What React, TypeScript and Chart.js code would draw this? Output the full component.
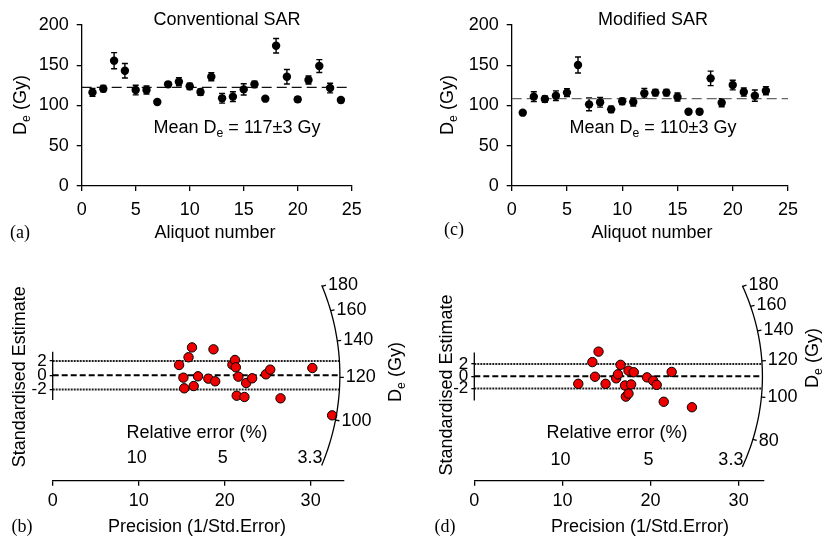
import { useEffect, useRef } from 'react';
import { Chart, registerables, type ChartConfiguration, type Plugin } from 'chart.js';

Chart.register(...registerables);

const FONT = '"Liberation Sans", Arial, Helvetica, sans-serif';
const SERIF = '"Liberation Serif", "Times New Roman", serif';
const W = 413;
const H = 270;

// (a) conventional SAR, De per aliquot
const ALIQUOT_A = [1, 2, 3, 4, 5, 6, 7, 8, 9, 10, 11, 12, 13, 14, 15, 16, 17, 18, 19, 20, 21, 22, 23, 24];
const DE_A = [116.3, 120.9, 155.7, 143.2, 119.2, 119.2, 104.3, 126.3, 129.6, 123.8, 116.7, 135.8, 108.9, 111, 120, 126.3, 108.5, 174.3, 135.8, 107.6, 131.7, 149, 121.7, 106.8];
const ERR_A = [5, 4, 10, 9, 6, 5, 2, 3, 5, 4, 4, 5, 6, 6, 7, 4, 2, 9, 9, 3, 5, 8, 6, 3];
const LINE_A = 122.5;

// (c) modified SAR
const ALIQUOT_C = [1, 2, 3, 4, 5, 6, 7, 8, 9, 10, 11, 12, 13, 14, 15, 16, 17, 18, 19, 20, 21, 22, 23];
const DE_C = [91.1, 111, 108, 112.2, 116, 150.3, 101.4, 104, 95.2, 105.2, 104.3, 115.1, 116, 116, 110.5, 92.3, 92.3, 133.7, 103.5, 125.4, 116.7, 112.2, 118.4];
const ERR_C = [2, 6, 4, 6, 5, 10, 8, 6, 4, 4, 5, 6, 4, 4, 5, 2, 3, 9, 5, 6, 5, 7, 5];
const LINE_C = 108.5;

const ALIQUOT_TICKS = [0, 5, 10, 15, 20, 25];
const DOSE_TICKS = [0, 50, 100, 150, 200];

// (b) radial plot, conventional
const PREC_B = [14.7, 15.2, 15.3, 15.8, 16.2, 16.4, 16.9, 18.1, 18.7, 18.9, 20.9, 21.2, 21.3, 21.4, 21.6, 22.3, 22.5, 23.2, 24.8, 25.3, 26.5, 30.2, 32.5];
const STD_B = [1.44, -0.33, -1.82, 2.52, 3.9, -1.5, -0.14, -0.47, 3.63, -0.84, 1.49, 2.14, 1.12, -2.85, -0.19, -3.03, -1.08, -0.42, 0.14, 0.79, -3.22, 1.02, -5.6];

// (d) radial plot, modified
const PREC_D = [11.8, 13.4, 13.7, 14.1, 14.9, 16.1, 16.3, 16.6, 17.1, 17.2, 17.5, 17.5, 17.8, 18.1, 19.6, 20.3, 20.7, 21.5, 22.4, 24.7];
const STD_D = [-1.23, 2.33, -0.07, 4.05, -1.23, -0.33, 0.33, 1.88, -1.5, -3.33, -2.83, 0.93, -1.33, 0.67, -0.17, -0.72, -1.4, -4.17, 0.72, -5.07];

const STD_TICKS = [-2, 0, 2];
const PRECISION_TICKS = [0, 10, 20, 30];
const REL_ERR_TICKS = [10, 5, 3.3];
const DE_TICKS_B = [100, 120, 140, 160, 180];
const DE_TICKS_D = [80, 100, 120, 140, 160, 180];
const CENTRAL_B = 121;
const CENTRAL_D = 111;

type Seg = { text: string; sub?: boolean };
type Label = { segs: Seg[]; x: number; y: number; size?: number; serif?: boolean; rotate?: boolean };

const plain = (text: string): Seg[] => [{ text }];
const deTitle: Seg[] = [{ text: 'D' }, { text: 'e', sub: true }, { text: ' (Gy)' }];

function richText(ctx: CanvasRenderingContext2D, l: Label) {
  const size = l.size ?? 18;
  const family = l.serif ? SERIF : FONT;
  const fontOf = (s: Seg) => `${s.sub ? size * 0.68 : size}px ${family}`;
  ctx.save();
  ctx.translate(l.x, l.y);
  if (l.rotate) ctx.rotate(-Math.PI / 2);
  ctx.fillStyle = '#000';
  ctx.textBaseline = 'middle';
  ctx.textAlign = 'left';
  let total = 0;
  for (const s of l.segs) {
    ctx.font = fontOf(s);
    total += ctx.measureText(s.text).width;
  }
  let cx = -total / 2;
  for (const s of l.segs) {
    ctx.font = fontOf(s);
    ctx.fillText(s.text, cx, s.sub ? size * 0.32 : 0);
    cx += ctx.measureText(s.text).width;
  }
  ctx.restore();
}

const labelPlugin = (labels: Label[]): Plugin<'scatter'> => ({
  id: 'labels',
  afterDraw(chart) {
    for (const l of labels) richText(chart.ctx, l);
  },
});

const axisStyle = {
  border: { color: '#000', width: 1.3 },
  grid: { drawOnChartArea: false, color: '#000', tickLength: 5, lineWidth: 1.3 },
};

interface AliquotPanel {
  aliquots: number[];
  de: number[];
  err: number[];
  line: number;
  lineColor: string;
  yWidth: number;
  padRight: number;
  labels: Label[];
}

function aliquotConfig(p: AliquotPanel): ChartConfiguration<'scatter'> {
  const errorBars: Plugin<'scatter'> = {
    id: 'errorBars',
    beforeDatasetsDraw(chart) {
      const { ctx, scales } = chart;
      ctx.save();
      ctx.strokeStyle = '#000';
      ctx.lineWidth = 1.4;
      p.aliquots.forEach((a, i) => {
        const x = scales.x.getPixelForValue(a);
        const y1 = scales.y.getPixelForValue(p.de[i] - p.err[i]);
        const y2 = scales.y.getPixelForValue(p.de[i] + p.err[i]);
        ctx.beginPath();
        ctx.moveTo(x, y1);
        ctx.lineTo(x, y2);
        ctx.moveTo(x - 3, y1);
        ctx.lineTo(x + 3, y1);
        ctx.moveTo(x - 3, y2);
        ctx.lineTo(x + 3, y2);
        ctx.stroke();
      });
      ctx.restore();
    },
  };
  return {
    type: 'scatter',
    data: {
      datasets: [
        {
          data: p.aliquots.map((a, i) => ({ x: a, y: p.de[i] })),
          pointRadius: 4.2,
          pointBackgroundColor: '#000',
          pointBorderColor: '#000',
          pointBorderWidth: 0,
        },
        {
          data: [{ x: 0, y: p.line }, { x: 25, y: p.line }],
          showLine: true,
          borderColor: p.lineColor,
          borderWidth: 1.4,
          borderDash: [10, 5],
          pointRadius: 0,
        },
      ],
    },
    options: {
      responsive: false,
      animation: false,
      events: [],
      layout: { padding: { top: 25, right: p.padRight, bottom: 0, left: 0 } },
      plugins: { legend: { display: false }, tooltip: { enabled: false } },
      scales: {
        x: {
          type: 'linear',
          min: 0,
          max: 25,
          ...axisStyle,
          afterBuildTicks: (s: any) => { s.ticks = ALIQUOT_TICKS.map(v => ({ value: v })); },
          afterFit: (s: any) => { s.height = 84; },
          ticks: { color: '#000', font: { family: FONT, size: 18 }, padding: 8, maxRotation: 0 },
        },
        y: {
          type: 'linear',
          min: 0,
          max: 200,
          ...axisStyle,
          afterBuildTicks: (s: any) => { s.ticks = DOSE_TICKS.map(v => ({ value: v })); },
          afterFit: (s: any) => { s.width = p.yWidth; },
          ticks: { color: '#000', font: { family: FONT, size: 18 }, padding: 8 },
        },
      },
    },
    plugins: [errorBars, labelPlugin(p.labels)],
  };
}

interface RadialPanel {
  prec: number[];
  std: number[];
  xMax: number;
  yMin: number;
  yMax: number;
  yWidth: number;
  padRight: number;
  rx: number;
  ry: number;
  phiMax: number;
  central: number;
  deTicks: number[];
  stdTop: number;
  stdBottom: number;
  relY: number;
  labels: Label[];
}

function radialConfig(p: RadialPanel): ChartConfiguration<'scatter'> {
  const lineEnd = (v: number) => p.rx * Math.sqrt(1 - (v / p.ry) ** 2);
  const refLine = (v: number, dash: number[], color: string, width: number) => ({
    data: [{ x: 0, y: v }, { x: lineEnd(v), y: v }],
    showLine: true,
    borderColor: color,
    borderWidth: width,
    borderDash: dash,
    pointRadius: 0,
  });

  const radial: Plugin<'scatter'> = {
    id: 'radial',
    afterDraw(chart) {
      const { ctx } = chart;
      const xs = chart.scales.x;
      const ys = chart.scales.y;
      const px = (v: number) => xs.getPixelForValue(v);
      const py = (v: number) => ys.getPixelForValue(v);
      ctx.save();
      ctx.strokeStyle = '#000';
      ctx.lineWidth = 1.3;
      // short standardised-estimate axis
      ctx.beginPath();
      ctx.moveTo(px(0), py(p.stdTop));
      ctx.lineTo(px(0), py(p.stdBottom));
      ctx.stroke();
      // De arc
      const phiMax = (p.phiMax * Math.PI) / 180;
      ctx.beginPath();
      for (let i = 0; i <= 80; i++) {
        const phi = -phiMax + (2 * phiMax * i) / 80;
        const X = px(p.rx * Math.cos(phi));
        const Y = py(p.ry * Math.sin(phi));
        if (i === 0) ctx.moveTo(X, Y);
        else ctx.lineTo(X, Y);
      }
      ctx.stroke();
      const ox = px(0);
      const oy = py(0);
      ctx.font = `18px ${FONT}`;
      ctx.fillStyle = '#000';
      ctx.textBaseline = 'middle';
      ctx.textAlign = 'left';
      for (const de of p.deTicks) {
        const phi = Math.atan((Math.log(de / p.central) * p.rx) / p.ry);
        const X = px(p.rx * Math.cos(phi));
        const Y = py(p.ry * Math.sin(phi));
        const len = Math.hypot(X - ox, Y - oy);
        const ux = (X - ox) / len;
        const uy = (Y - oy) / len;
        ctx.beginPath();
        ctx.moveTo(X, Y);
        ctx.lineTo(X + 4 * ux, Y + 4 * uy);
        ctx.stroke();
        ctx.fillText(String(de), X + 5 * ux + 1, Y + 5 * uy);
      }
      // relative error scale
      ctx.textAlign = 'center';
      const yv = ys.getValueForPixel(p.relY) as number;
      const arcX = px(p.rx * Math.sqrt(Math.max(0, 1 - (yv / p.ry) ** 2)));
      for (const rel of REL_ERR_TICKS) {
        const text = String(rel);
        const w = ctx.measureText(text).width;
        const x = Math.min(px(100 / rel) - 2, arcX - w / 2 - 2);
        ctx.fillText(text, x, p.relY);
      }
      ctx.restore();
    },
  };

  return {
    type: 'scatter',
    data: {
      datasets: [
        {
          data: p.prec.map((x, i) => ({ x, y: p.std[i] })),
          pointRadius: 4.7,
          pointBackgroundColor: '#ee0000',
          pointBorderColor: '#000',
          pointBorderWidth: 1,
        },
        refLine(0, [6, 3], '#000', 2),
        refLine(2, [2, 1], '#222', 2),
        refLine(-2, [2, 1], '#222', 2),
      ],
    },
    options: {
      responsive: false,
      animation: false,
      events: [],
      layout: { padding: { top: 20, right: p.padRight, bottom: 0, left: 0 } },
      plugins: { legend: { display: false }, tooltip: { enabled: false } },
      scales: {
        x: {
          type: 'linear',
          min: 0,
          max: p.xMax,
          ...axisStyle,
          afterBuildTicks: (s: any) => { s.ticks = PRECISION_TICKS.map(v => ({ value: v })); },
          afterFit: (s: any) => { s.height = H - 210.7; },
          ticks: { color: '#000', font: { family: FONT, size: 18 }, padding: 5, maxRotation: 0 },
        },
        y: {
          type: 'linear',
          min: p.yMin,
          max: p.yMax,
          border: { display: false },
          grid: { drawOnChartArea: false, color: '#000', tickLength: 3, lineWidth: 1.3 },
          afterBuildTicks: (s: any) => { s.ticks = STD_TICKS.map(v => ({ value: v })); },
          afterFit: (s: any) => { s.width = p.yWidth; },
          ticks: { color: '#000', font: { family: FONT, size: 17 }, padding: 3 },
        },
      },
    },
    plugins: [radial, labelPlugin(p.labels)],
  };
}

const PANEL_A = aliquotConfig({
  aliquots: ALIQUOT_A,
  de: DE_A,
  err: ERR_A,
  line: LINE_A,
  lineColor: '#111',
  yWidth: 81.7,
  padRight: W - 351.7,
  labels: [
    { segs: plain('Conventional SAR'), x: 227, y: 20 },
    { segs: [{ text: 'Mean D' }, { text: 'e', sub: true }, { text: ' = 117±3 Gy' }], x: 237, y: 128 },
    { segs: plain('Aliquot number'), x: 215, y: 233 },
    { segs: deTitle, x: 21, y: 105, rotate: true },
    { segs: plain('(a)'), x: 20, y: 233, serif: true },
  ],
});

const PANEL_C = aliquotConfig({
  aliquots: ALIQUOT_C,
  de: DE_C,
  err: ERR_C,
  line: LINE_C,
  lineColor: '#666',
  yWidth: 98.7,
  padRight: W - 375,
  labels: [
    { segs: plain('Modified SAR'), x: 240, y: 20 },
    { segs: [{ text: 'Mean D' }, { text: 'e', sub: true }, { text: ' = 110±3 Gy' }], x: 240, y: 128 },
    { segs: plain('Aliquot number'), x: 239, y: 233 },
    { segs: deTitle, x: 35, y: 105, rotate: true },
    { segs: plain('(c)'), x: 41, y: 230, serif: true },
  ],
});

const PANEL_B = radialConfig({
  prec: PREC_B,
  std: STD_B,
  xMax: 33.8,
  yMin: -14.74,
  yMax: 11.93,
  yWidth: 52.7,
  padRight: W - 343.3,
  rx: 33.4,
  ry: 36,
  phiMax: 20.5,
  central: CENTRAL_B,
  deTicks: DE_TICKS_B,
  stdTop: 3.3,
  stdBottom: -3.45,
  relY: 188.3,
  labels: [
    { segs: plain('Standardised Estimate'), x: 20, y: 106.7, rotate: true },
    { segs: plain('Relative error (%)'), x: 197, y: 163.3 },
    { segs: plain('Precision (1/Std.Error)'), x: 197, y: 257 },
    { segs: plain('(b)'), x: 22, y: 257, serif: true },
    { segs: deTitle, x: 396, y: 102, rotate: true },
  ],
});

const PANEL_D = radialConfig({
  prec: PREC_D,
  std: STD_D,
  xMax: 32.8,
  yMin: -17.11,
  yMax: 14.15,
  yWidth: 61.3,
  padRight: W - 350.3,
  rx: 32.7,
  ry: 40.5,
  phiMax: 21.5,
  central: CENTRAL_D,
  deTicks: DE_TICKS_D,
  stdTop: 3.9,
  stdBottom: -3.95,
  relY: 190,
  labels: [
    { segs: plain('Standardised Estimate'), x: 34, y: 115, rotate: true },
    { segs: plain('Relative error (%)'), x: 204, y: 163.3 },
    { segs: plain('Precision (1/Std.Error)'), x: 227, y: 257 },
    { segs: plain('(d)'), x: 32, y: 257, serif: true },
    { segs: deTitle, x: 400, y: 88, rotate: true },
  ],
});

function Panel({ left, top, config }: { left: number; top: number; config: ChartConfiguration<'scatter'> }) {
  const ref = useRef<HTMLCanvasElement>(null);

  useEffect(() => {
    const canvas = ref.current;
    if (!canvas) {
      return;
    }
    const chart = new Chart(canvas, config);
    return () => {
      chart.destroy();
    };
  }, [config]);

  return (
    <canvas
      ref={ref}
      width={W}
      height={H}
      style={{ position: 'absolute', left, top, width: W, height: H }}
    />
  );
}

export default function App() {
  return (
    <div style={{ position: 'fixed', left: 0, top: 0, width: 826, height: 540, background: '#fff' }}>
      <Panel left={0} top={0} config={PANEL_A} />
      <Panel left={413} top={0} config={PANEL_C} />
      <Panel left={0} top={270} config={PANEL_B} />
      <Panel left={413} top={270} config={PANEL_D} />
    </div>
  );
}
